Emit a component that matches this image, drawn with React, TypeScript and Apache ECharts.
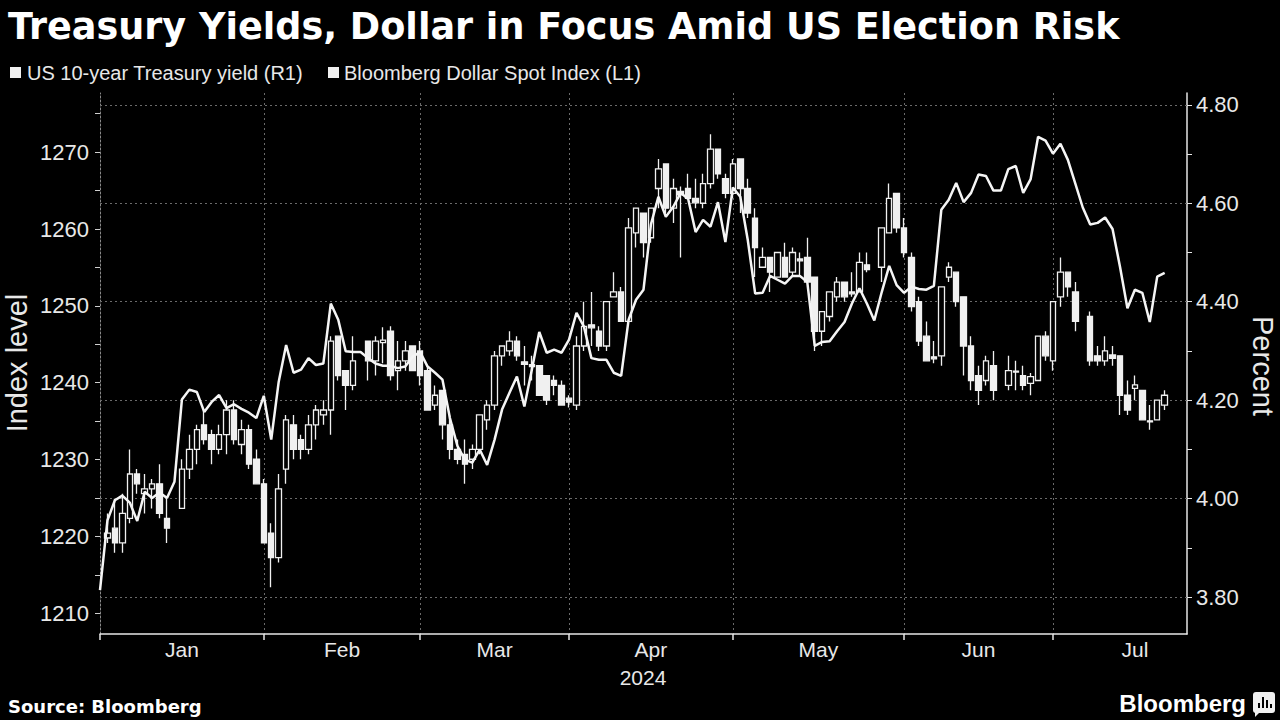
import React, { useEffect, useRef } from "react";
import * as echarts from "echarts";

const chartTitle = "Treasury Yields, Dollar in Focus Amid US Election Risk";
const legendNames = ["US 10-year Treasury yield (R1)", "Bloomberg Dollar Spot Index (L1)"];
const monthLabels = ["Jan", "Feb", "Mar", "Apr", "May", "Jun", "Jul"];
const monthLabelAt = [11, 32.5, 53, 74, 96.5, 118, 139];
const indexTicks = [1210, 1220, 1230, 1240, 1250, 1260, 1270];
const indexTickMarks = [1210, 1215, 1220, 1225, 1230, 1235, 1240, 1245, 1250, 1255, 1260, 1265, 1270, 1275];
const percentTicks = [3.8, 4.0, 4.2, 4.4, 4.6, 4.8];
const percentTickMarks = [3.8, 3.9, 4.0, 4.1, 4.2, 4.3, 4.4, 4.5, 4.6, 4.7, 4.8];

// Bond-market calendar used by the chart (weekdays, Good Friday dropped)
function buildTradingDays(): string[] {
  const out: string[] = [];
  const start = Date.UTC(2024, 0, 1);
  const end = Date.UTC(2024, 6, 24);
  for (let t = start; t <= end; t += 86400000) {
    const d = new Date(t);
    const wd = d.getUTCDay();
    if (wd === 0 || wd === 6) continue;
    const s = d.toISOString().slice(0, 10);
    if (s === "2024-03-29") continue;
    out.push(s);
  }
  return out;
}
const tradingDays = buildTradingDays();

// US 10-year yield candles: [open, close, low, high]; null = market closed
const yieldCandles: (number[] | null)[] = [
  null,
  [3.92, 3.93, 3.91, 3.97], [3.94, 3.91, 3.89, 4.0], [3.91, 3.97, 3.89, 4.01], [3.96, 4.05, 3.95, 4.1],
  [4.05, 4.03, 4.01, 4.06], [4.01, 4.02, 3.97, 4.05], [4.02, 4.03, 3.98, 4.04], [4.03, 3.97, 3.96, 4.07],
  [3.96, 3.94, 3.91, 4.0],
  null,
  [3.98, 4.06, 3.98, 4.08], [4.06, 4.1, 4.04, 4.13], [4.1, 4.14, 4.07, 4.15], [4.15, 4.12, 4.11, 4.18],
  [4.13, 4.1, 4.07, 4.14], [4.1, 4.13, 4.09, 4.15], [4.13, 4.18, 4.09, 4.2], [4.18, 4.12, 4.11, 4.2],
  [4.11, 4.14, 4.09, 4.16], [4.14, 4.07, 4.06, 4.15], [4.08, 4.03, 4.03, 4.1], [4.03, 3.91, 3.91, 4.04],
  [3.93, 3.88, 3.82, 3.95], [3.88, 4.02, 3.87, 4.05], [4.06, 4.16, 4.03, 4.17], [4.15, 4.1, 4.08, 4.17],
  [4.12, 4.1, 4.08, 4.13], [4.1, 4.15, 4.09, 4.17], [4.15, 4.18, 4.12, 4.19], [4.17, 4.18, 4.15, 4.2],
  [4.18, 4.32, 4.13, 4.33], [4.33, 4.25, 4.24, 4.33], [4.26, 4.23, 4.18, 4.26], [4.23, 4.28, 4.22, 4.33],
  null,
  [4.32, 4.28, 4.24, 4.32], [4.28, 4.32, 4.25, 4.33], [4.317, 4.322, 4.275, 4.348], [4.34, 4.25, 4.24, 4.35],
  [4.26, 4.28, 4.22, 4.32], [4.28, 4.3, 4.26, 4.32], [4.31, 4.26, 4.26, 4.31], [4.3, 4.25, 4.23, 4.32],
  [4.26, 4.18, 4.18, 4.27], [4.19, 4.21, 4.18, 4.23], [4.22, 4.15, 4.12, 4.22], [4.15, 4.1, 4.08, 4.17],
  [4.1, 4.08, 4.07, 4.12], [4.09, 4.07, 4.03, 4.12], [4.08, 4.1, 4.06, 4.11], [4.1, 4.17, 4.09, 4.17],
  [4.16, 4.19, 4.14, 4.2], [4.19, 4.29, 4.18, 4.3], [4.29, 4.31, 4.27, 4.31], [4.3, 4.32, 4.29, 4.34],
  [4.32, 4.29, 4.28, 4.33], [4.278, 4.273, 4.23, 4.31], [4.272, 4.268, 4.24, 4.29], [4.27, 4.21, 4.21, 4.27],
  [4.25, 4.2, 4.19, 4.25], [4.24, 4.23, 4.21, 4.25], [4.23, 4.19, 4.19, 4.24], [4.204, 4.196, 4.185, 4.21],
  [4.19, 4.31, 4.18, 4.33], [4.31, 4.35, 4.3, 4.4], [4.353, 4.347, 4.31, 4.42], [4.34, 4.31, 4.3, 4.35],
  [4.31, 4.4, 4.3, 4.4], [4.41, 4.42, 4.41, 4.46], [4.42, 4.36, 4.36, 4.43], [4.36, 4.55, 4.36, 4.57],
  [4.54, 4.59, 4.51, 4.59], [4.58, 4.52, 4.49, 4.58], [4.53, 4.59, 4.52, 4.59], [4.63, 4.67, 4.59, 4.69],
  [4.68, 4.59, 4.58, 4.68], [4.59, 4.63, 4.56, 4.65], [4.624, 4.617, 4.49, 4.634], [4.63, 4.61, 4.61, 4.66],
  [4.61, 4.601, 4.59, 4.65], [4.6, 4.64, 4.59, 4.66], [4.64, 4.71, 4.63, 4.74], [4.71, 4.66, 4.65, 4.71],
  [4.65, 4.62, 4.61, 4.66], [4.62, 4.68, 4.61, 4.69], [4.69, 4.63, 4.58, 4.69], [4.63, 4.58, 4.57, 4.65],
  [4.57, 4.51, 4.45, 4.59], [4.47, 4.49, 4.47, 4.51], [4.49, 4.46, 4.42, 4.49], [4.45, 4.5, 4.45, 4.5],
  [4.49, 4.45, 4.45, 4.52], [4.46, 4.5, 4.45, 4.51], [4.487, 4.483, 4.45, 4.5], [4.49, 4.44, 4.44, 4.53],
  [4.45, 4.34, 4.3, 4.45], [4.34, 4.38, 4.31, 4.38], [4.37, 4.42, 4.36, 4.42], [4.41, 4.44, 4.4, 4.45],
  [4.44, 4.41, 4.4, 4.44], [4.42, 4.416, 4.41, 4.46], [4.42, 4.48, 4.42, 4.5], [4.475, 4.465, 4.46, 4.5],
  null,
  [4.47, 4.55, 4.44, 4.55], [4.54, 4.61, 4.54, 4.64], [4.62, 4.55, 4.54, 4.62], [4.55, 4.5, 4.49, 4.57],
  [4.49, 4.39, 4.38, 4.5], [4.4, 4.32, 4.31, 4.41], [4.33, 4.28, 4.28, 4.36], [4.288, 4.284, 4.275, 4.32],
  [4.29, 4.43, 4.27, 4.43], [4.45, 4.47, 4.44, 4.48], [4.46, 4.4, 4.39, 4.46], [4.41, 4.31, 4.25, 4.41],
  [4.31, 4.24, 4.22, 4.33], [4.25, 4.22, 4.19, 4.27], [4.24, 4.28, 4.23, 4.29], [4.27, 4.22, 4.2, 4.3],
  null,
  [4.23, 4.26, 4.22, 4.29], [4.257, 4.259, 4.22, 4.28], [4.25, 4.23, 4.22, 4.27], [4.234, 4.248, 4.21, 4.255],
  [4.24, 4.33, 4.24, 4.33], [4.33, 4.29, 4.28, 4.34], [4.28, 4.4, 4.26, 4.4], [4.41, 4.46, 4.39, 4.49],
  [4.46, 4.43, 4.41, 4.46], [4.42, 4.36, 4.34, 4.44],
  null,
  [4.37, 4.28, 4.27, 4.38], [4.29, 4.28, 4.27, 4.31], [4.28, 4.3, 4.27, 4.33], [4.292, 4.285, 4.27, 4.31],
  [4.29, 4.21, 4.17, 4.29], [4.21, 4.18, 4.17, 4.24], [4.224, 4.231, 4.2, 4.25], [4.22, 4.16, 4.16, 4.22],
  [4.158, 4.156, 4.14, 4.19], [4.16, 4.2, 4.16, 4.2], [4.19, 4.21, 4.18, 4.22],
];

// Bloomberg Dollar Spot Index, daily close
const dollarIndex: number[] = [
  1213.0, 1222.1, 1224.7, 1225.3, 1224.4, 1222.0, 1225.8, 1225.0, 1225.7, 1225.0,
  1227.1, 1237.8, 1239.1, 1238.8, 1236.2, 1237.5, 1238.4, 1236.7, 1237.2, 1236.6,
  1236.1, 1235.4, 1238.3, 1232.6, 1240.1, 1244.9, 1241.3, 1241.7, 1243.2, 1242.3,
  1242.5, 1250.3, 1248.2, 1244.1, 1244.0, 1244.0, 1243.2, 1242.5, 1242.2, 1242.2,
  1241.9, 1242.1, 1243.4, 1244.0, 1242.1, 1241.3, 1240.4, 1235.4, 1231.8, 1230.0,
  1229.6, 1231.3, 1229.3, 1232.6, 1236.5, 1238.7, 1240.8, 1236.9, 1241.7, 1246.6,
  1243.9, 1244.3, 1243.9, 1245.6, 1249.1, 1247.3, 1243.2, 1243.0, 1243.0, 1241.3,
  1240.9, 1248.2, 1250.8, 1252.1, 1260.6, 1264.2, 1261.6, 1262.9, 1264.7, 1263.9,
  1259.6, 1261.2, 1260.3, 1263.5, 1258.3, 1265.4, 1264.2, 1258.6, 1251.6, 1251.7,
  1253.9, 1253.4, 1252.9, 1253.9, 1253.9, 1253.1, 1244.8, 1245.3, 1245.4, 1246.7,
  1247.9, 1250.3, 1252.3, 1250.3, 1248.1, 1251.8, 1255.2, 1252.7, 1251.7, 1252.5,
  1252.2, 1252.1, 1252.6, 1262.5, 1263.8, 1266.0, 1263.5, 1264.7, 1267.1, 1266.9,
  1265.0, 1265.0, 1267.8, 1268.2, 1264.7, 1266.5, 1272.0, 1271.5, 1269.8, 1271.1,
  1269.0, 1265.9, 1262.8, 1260.6, 1260.8, 1261.5, 1260.0, 1255.1, 1249.7, 1252.1,
  1251.7, 1247.9, 1253.8, 1254.3,
];

const FONT = '"Liberation Sans", Arial, sans-serif';
const BOLD_FONT = '"DejaVu Sans", Verdana, sans-serif';
const TXT = "#e8e8e8";

export default function App() {
  const ref = useRef<HTMLDivElement>(null);

  useEffect(() => {
    if (!ref.current) return;
    const chart = echarts.init(ref.current, null, { renderer: "svg" });
    const n = tradingDays.length;
    const monthEnd = tradingDays.map(
      (d, i) => i === 0 || (i < n - 1 && tradingDays[i + 1].slice(5, 7) !== d.slice(5, 7))
    );
    const candleData = yieldCandles.map((c) => (c ? c : ["-", "-", "-", "-"]));

    const option: any = {
      animation: false,
      backgroundColor: "#000",
      grid: { left: 100, right: 93, top: 93, bottom: 86 },
      xAxis: [
        {
          type: "category",
          data: tradingDays,
          boundaryGap: false,
          axisLine: { show: true, lineStyle: { color: "#e6e6e6", width: 1.5 } },
          axisTick: {
            show: true,
            interval: (i: number) => monthEnd[i],
            length: 6,
            lineStyle: { color: "#e6e6e6", width: 1.5 },
          },
          axisLabel: { show: false },
          splitLine: {
            show: true,
            interval: (i: number) => monthEnd[i] && i > 0,
            lineStyle: { color: "#6a6a6a", type: [2, 3], width: 1 },
          },
        },
        {
          type: "value",
          min: 0,
          max: n - 1,
          position: "bottom",
          axisLine: { show: false },
          axisTick: { show: false },
          splitLine: { show: false },
          axisLabel: {
            customValues: monthLabelAt,
            formatter: (v: number) => {
              const k = monthLabelAt.findIndex((m) => Math.abs(m - v) < 0.01);
              return k >= 0 ? monthLabels[k] : "";
            },
            color: TXT,
            fontSize: 21,
            fontFamily: FONT,
            margin: 5,
          },
        },
      ],
      yAxis: [
        {
          type: "value",
          position: "left",
          min: 1207.3,
          max: 1277.7,
          axisLine: { show: true, lineStyle: { color: "#8a8a8a", type: [2, 2], width: 1 } },
          axisTick: { show: true, customValues: indexTickMarks, length: 5, lineStyle: { color: "#cfcfcf" } },
          axisLabel: {
            customValues: indexTicks,
            formatter: (v: number) => String(Math.round(v)),
            color: TXT,
            fontSize: 22,
            fontFamily: FONT,
            margin: 11,
          },
          splitLine: { show: false },
        },
        {
          type: "value",
          position: "right",
          min: 3.725,
          max: 4.824,
          axisLine: { show: true, lineStyle: { color: "#e6e6e6", width: 1.5 } },
          axisTick: { show: true, customValues: percentTickMarks, length: 5, lineStyle: { color: "#e6e6e6" } },
          axisLabel: {
            customValues: percentTicks,
            formatter: (v: number) => v.toFixed(2),
            color: TXT,
            fontSize: 22,
            fontFamily: FONT,
            margin: 9,
          },
          splitLine: { show: false },
        },
      ],
      series: [
        {
          type: "candlestick",
          name: legendNames[0],
          xAxisIndex: 0,
          yAxisIndex: 1,
          data: candleData,
          barWidth: 6,
          z: 2,
          itemStyle: {
            color: "#000",
            color0: "#f0f0f0",
            borderColor: "#f0f0f0",
            borderColor0: "#f0f0f0",
            borderWidth: 1.3,
          },
          markLine: {
            silent: true,
            z: 1,
            symbol: ["none", "none"],
            label: { show: false },
            lineStyle: { color: "#6a6a6a", type: [2, 3], width: 1 },
            data: percentTicks.map((v) => ({ yAxis: v })),
          },
        },
        {
          type: "line",
          name: legendNames[1],
          xAxisIndex: 0,
          yAxisIndex: 0,
          data: dollarIndex,
          symbol: "none",
          z: 3,
          lineStyle: { color: "#f5f5f5", width: 2.5 },
        },
      ],
      graphic: [
        {
          type: "text",
          left: 8,
          top: 8,
          style: { text: chartTitle, fill: "#fff", font: `bold 36.6px ${BOLD_FONT}` },
        },
        { type: "rect", shape: { x: 10, y: 67, width: 11, height: 11 }, style: { fill: "#f0f0f0" } },
        {
          type: "text",
          x: 27,
          y: 73,
          style: { text: legendNames[0], fill: TXT, font: `20px ${FONT}`, verticalAlign: "middle" },
        },
        { type: "rect", shape: { x: 328, y: 67, width: 11, height: 11 }, style: { fill: "#f0f0f0" } },
        {
          type: "text",
          x: 344,
          y: 73,
          style: { text: legendNames[1], fill: TXT, font: `20px ${FONT}`, verticalAlign: "middle" },
        },
        {
          type: "text",
          x: 17,
          y: 363,
          rotation: Math.PI / 2,
          style: { text: "Index level", fill: TXT, font: `29px ${FONT}`, align: "center", verticalAlign: "middle" },
        },
        {
          type: "text",
          x: 1263,
          y: 366,
          rotation: -Math.PI / 2,
          style: { text: "Percent", fill: TXT, font: `29px ${FONT}`, align: "center", verticalAlign: "middle" },
        },
        {
          type: "text",
          x: 643,
          y: 677,
          style: { text: "2024", fill: TXT, font: `21px ${FONT}`, align: "center", verticalAlign: "middle" },
        },
        {
          type: "text",
          x: 8,
          y: 706,
          style: { text: "Source: Bloomberg", fill: "#fff", font: `bold 18px ${BOLD_FONT}`, verticalAlign: "middle" },
        },
        {
          type: "text",
          x: 1246,
          y: 703,
          style: {
            text: "Bloomberg",
            fill: "#fff",
            font: `bold 24px ${FONT}`,
            align: "right",
            verticalAlign: "middle",
          },
        },
        { type: "rect", shape: { x: 1253, y: 692, width: 22, height: 21, r: 3 }, style: { fill: "#f0f0f0" } },
        { type: "polygon", shape: { points: [[1255, 710], [1262, 710], [1255, 717]] }, style: { fill: "#f0f0f0" } },
        { type: "rect", shape: { x: 1258, y: 703, width: 2, height: 5 }, style: { fill: "#000" } },
        { type: "rect", shape: { x: 1262, y: 697, width: 2, height: 11 }, style: { fill: "#000" } },
        { type: "rect", shape: { x: 1266, y: 700, width: 2, height: 8 }, style: { fill: "#000" } },
        { type: "rect", shape: { x: 1270, y: 704, width: 2, height: 4 }, style: { fill: "#000" } },
      ],
    };

    chart.setOption(option);
    return () => chart.dispose();
  }, []);

  return (
    <div
      ref={ref}
      style={{ position: "fixed", left: 0, top: 0, width: 1280, height: 720, background: "#000" }}
    />
  );
}
